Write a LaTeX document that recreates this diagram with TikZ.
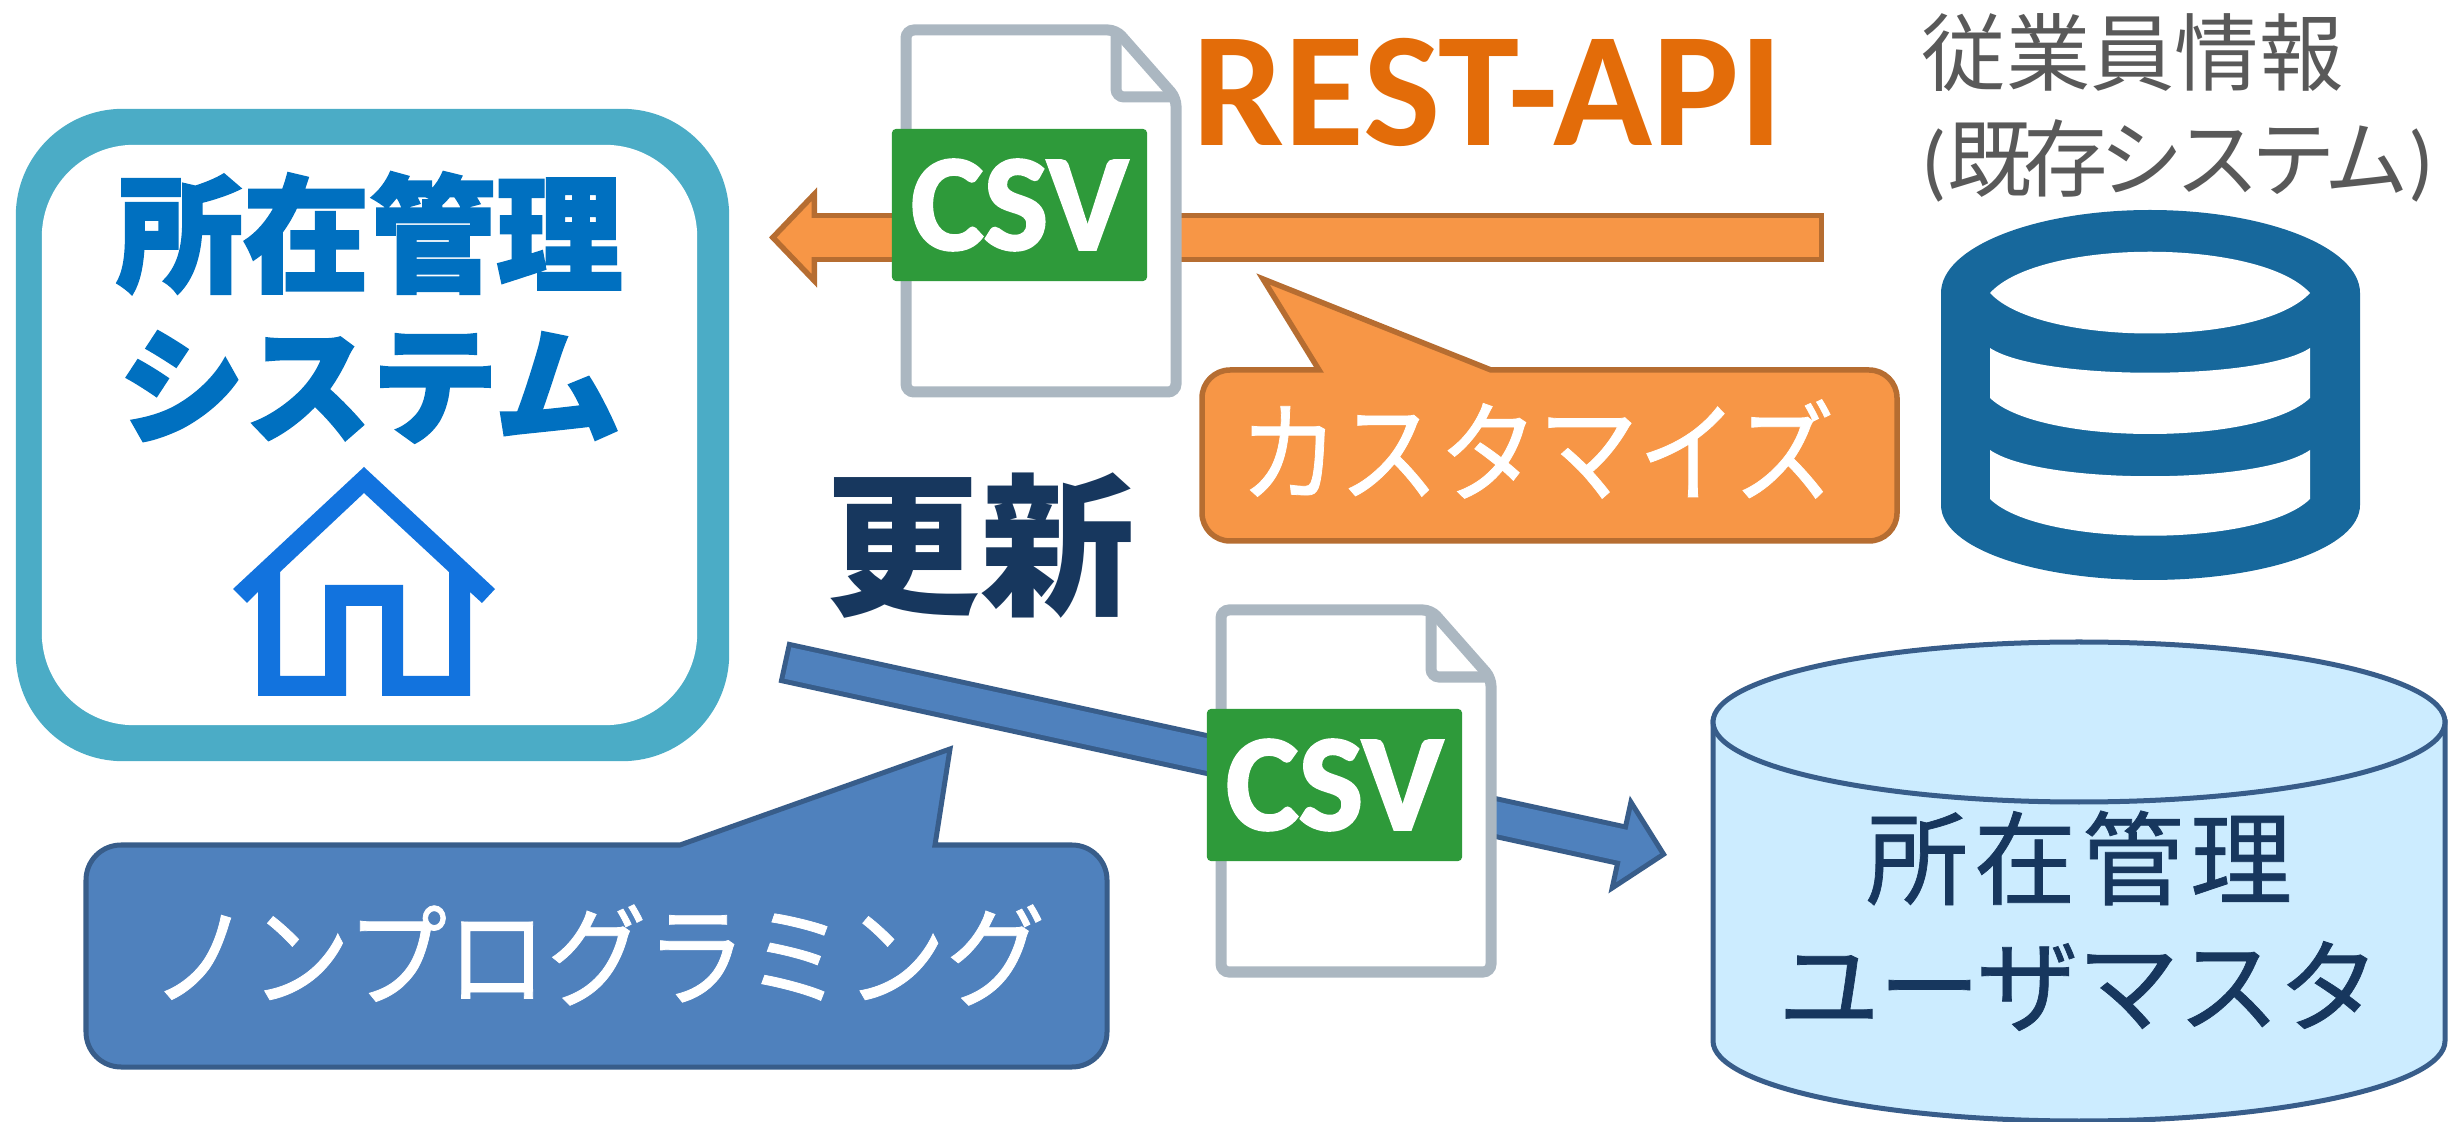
\documentclass[tikz,border=0pt]{standalone}
\usepackage{fontspec}
\usetikzlibrary{arrows.meta}
\setmainfont{Carlito}
\newfontfamily\cjk{Noto Sans CJK JP}
\newfontfamily\cjkwhite[FakeBold=.7,FakeStretch=.9]{Noto Sans CJK JP}
\newfontfamily\cjkwide[FakeBold=.7,LetterSpace=6]{Noto Sans CJK JP}
\newfontfamily\cjknarrow[FakeBold=.7,LetterSpace=-1.5]{Noto Sans CJK JP}
\newfontfamily\cjktight[LetterSpace=-10]{Noto Sans CJK JP}
\newfontfamily\cjkheavy[BoldFeatures={FakeBold=2}]{Noto Sans CJK JP}
\newfontfamily\csvfont[BoldFeatures={FakeBold=2}]{Carlito}
\definecolor{tealbox}{HTML}{4BACC6}
\definecolor{titleblue}{HTML}{0070C0}
\definecolor{houseblue}{HTML}{1273DE}
\definecolor{orangefill}{HTML}{F79646}
\definecolor{orangeline}{HTML}{B66D31}
\definecolor{restorange}{HTML}{E36C09}
\definecolor{bluefill}{HTML}{4F81BD}
\definecolor{blueline}{HTML}{385D8A}
\definecolor{navytext}{HTML}{17375E}
\definecolor{cylfill}{HTML}{CCECFF}
\definecolor{docgray}{HTML}{ABB7C1}
\definecolor{csvgreen}{HTML}{2E9A3A}
\definecolor{iconblue}{HTML}{17689C}
\definecolor{graytext}{HTML}{595959}

\begin{document}
\begin{tikzpicture}[x=0.01cm,y=-0.01cm]
\tikzset{
  sysouter/.style={rectangle, fill=tealbox, rounded corners=1.07cm, minimum width=7.13cm, minimum height=6.52cm},
  sysinner/.style={rectangle, fill=white, rounded corners=.92cm, minimum width=6.55cm, minimum height=5.8cm},
  systitle/.style={inner sep=0, text=titleblue, font=\cjkheavy\bfseries\fontsize{36}{36}\selectfont},
  whitetext/.style={inner sep=0, text=white, font=\cjkwhite\fontsize{31.5}{32}\selectfont},
  dbwide/.style={inner sep=0, text=navytext, font=\cjkwide\fontsize{29}{30}\selectfont},
  dbnarrow/.style={inner sep=0, text=navytext, font=\cjknarrow\fontsize{29}{30}\selectfont},
  callorange/.style={fill=orangefill, draw=orangeline, line width=.055cm},
  callblue/.style={fill=bluefill, draw=blueline, line width=.05cm},
  arroworange/.style={draw=orangeline, line width=.495cm, -{Triangle[length=.48cm,width=.99cm,line width=.055cm,fill=orangefill]}},
  shaftorange/.style={draw=orangefill, line width=.385cm, shorten <=.055cm, shorten >=.42cm},
  arrowblue/.style={draw=blueline, line width=.42cm, -{Triangle[length=.49cm,width=.99cm,line width=.05cm,fill=bluefill]}},
  shaftblue/.style={draw=bluefill, line width=.32cm, shorten <=.05cm, shorten >=.43cm},
  docline/.style={draw=docgray, fill=white, line width=.11cm, rounded corners=.08cm},
  csvlabel/.style={rectangle, fill=csvgreen, text=white, inner sep=0, rounded corners=.04cm, minimum width=2.55cm, minimum height=1.52cm, font=\csvfont\bfseries\fontsize{39}{39}\selectfont},
  dbcyl/.style={draw=blueline, fill=cylfill, line width=.05cm}
}
\useasboundingbox (0,0) rectangle (2451,1122);
% system box
\node[sysouter] (SO) at (372.5,435) {};
\node[sysinner] (SI) at (369.5,435) {};
\node[systitle] (T1) at (369.5,233) {所在管理};
\node[systitle] (T2) at (369.5,387) {システム};
\fill[houseblue, even odd rule] (364,467) -- (495,589) -- (482,603) -- (470,592) -- (470,696) -- (382,696) -- (382,606) -- (346,606) -- (346,696) -- (258,696) -- (258,592) -- (247,603) -- (233,589) -- cycle
  (364,493) -- (449,572) -- (449,676) -- (403,676) -- (403,585) -- (325,585) -- (325,676) -- (280,676) -- (280,572) -- cycle;
% arrows
\coordinate (A1) at (1824,237.5);
\coordinate (A2) at (769,237.5);
\draw[arroworange] (A1) -- (A2);
\draw[shaftorange] (A1) -- (A2);
\coordinate (B1) at (783,662);
\coordinate (B2) at (1667,855);
\draw[arrowblue] (B1) -- (B2);
\draw[shaftblue] (B1) -- (B2);
% csv files
\foreach \nm/\dx/\dy in {A/0/0, B/315/580} {
  \begin{scope}[shift={(\dx,\dy)}]
    \draw[docline] (906,30) -- (1116,30) -- (1176,98) -- (1176,392) -- (906,392) -- cycle;
    \draw[docline, fill=none] (1116,30) -- (1116,97) -- (1176,97);
    \node[csvlabel] (csv\nm) at (1019.5,205) {CSV};
  \end{scope}
}
% labels
\node[inner sep=0, text=restorange, font=\bfseries\fontsize{46.5}{46}\selectfont] (R) at (1488,92) {REST-API};
\node[inner sep=0, text=navytext, font=\cjk\bfseries\fontsize{44}{44}\selectfont] (U) at (980,546) {更新};
\node[inner sep=0, align=left, anchor=north west, text=graytext, font=\fontsize{24}{30}\selectfont] (E) at (1921,13) {{\cjk 従業員情報}\\({\cjktight 既存システム})};
% callouts
\draw[callorange] (1319,370) -- (1263,279) -- (1491,370) [rounded corners=.28cm] -- (1897,370) -- (1897,541) -- (1202,541) -- (1202,370) [sharp corners] -- cycle;
\node[whitetext] (C1) at (1537,449) {カスタマイズ};
\draw[callblue] (935,845) -- (950,749) -- (680,845) [rounded corners=.35cm] -- (86,845) -- (86,1067) -- (1107,1067) -- (1107,845) [sharp corners] -- cycle;
\node[whitetext] (C2) at (598,955) {ノンプログラミング};
% user master
\draw[dbcyl] (1713,722) -- (1713,1041) .. controls (1713,1085) and (1877,1121) .. (2079,1121) .. controls (2281,1121) and (2445,1085) .. (2445,1041) -- (2445,722) -- cycle;
\draw[dbcyl] (2079,722) ellipse [x radius=366, y radius=80];
\node[dbwide] (D1) at (2079,858) {所在管理};
\node[dbnarrow] (D2) at (2079,986) {ユーザマスタ};
% employee db icon
\fill[iconblue] (1941,293) .. controls (1941,247) and (2035,210) .. (2150,210) .. controls (2265,210) and (2360,247) .. (2360,293) -- (2360,505) .. controls (2360,548) and (2265,580) .. (2150,580) .. controls (2035,580) and (1941,548) .. (1941,505) -- cycle;
\fill[white] (1990,293) .. controls (2040,238) and (2260,238) .. (2310,293) .. controls (2260,347) and (2040,347) .. (1990,293) -- cycle;
\fill[white] (1990,348) .. controls (2040,381) and (2260,381) .. (2310,348) -- (2310,398) .. controls (2260,446) and (2040,446) .. (1990,398) -- cycle;
\fill[white] (1990,450) .. controls (2040,485) and (2260,485) .. (2310,450) -- (2310,499) .. controls (2260,548) and (2040,548) .. (1990,499) -- cycle;
\end{tikzpicture}
\end{document}
